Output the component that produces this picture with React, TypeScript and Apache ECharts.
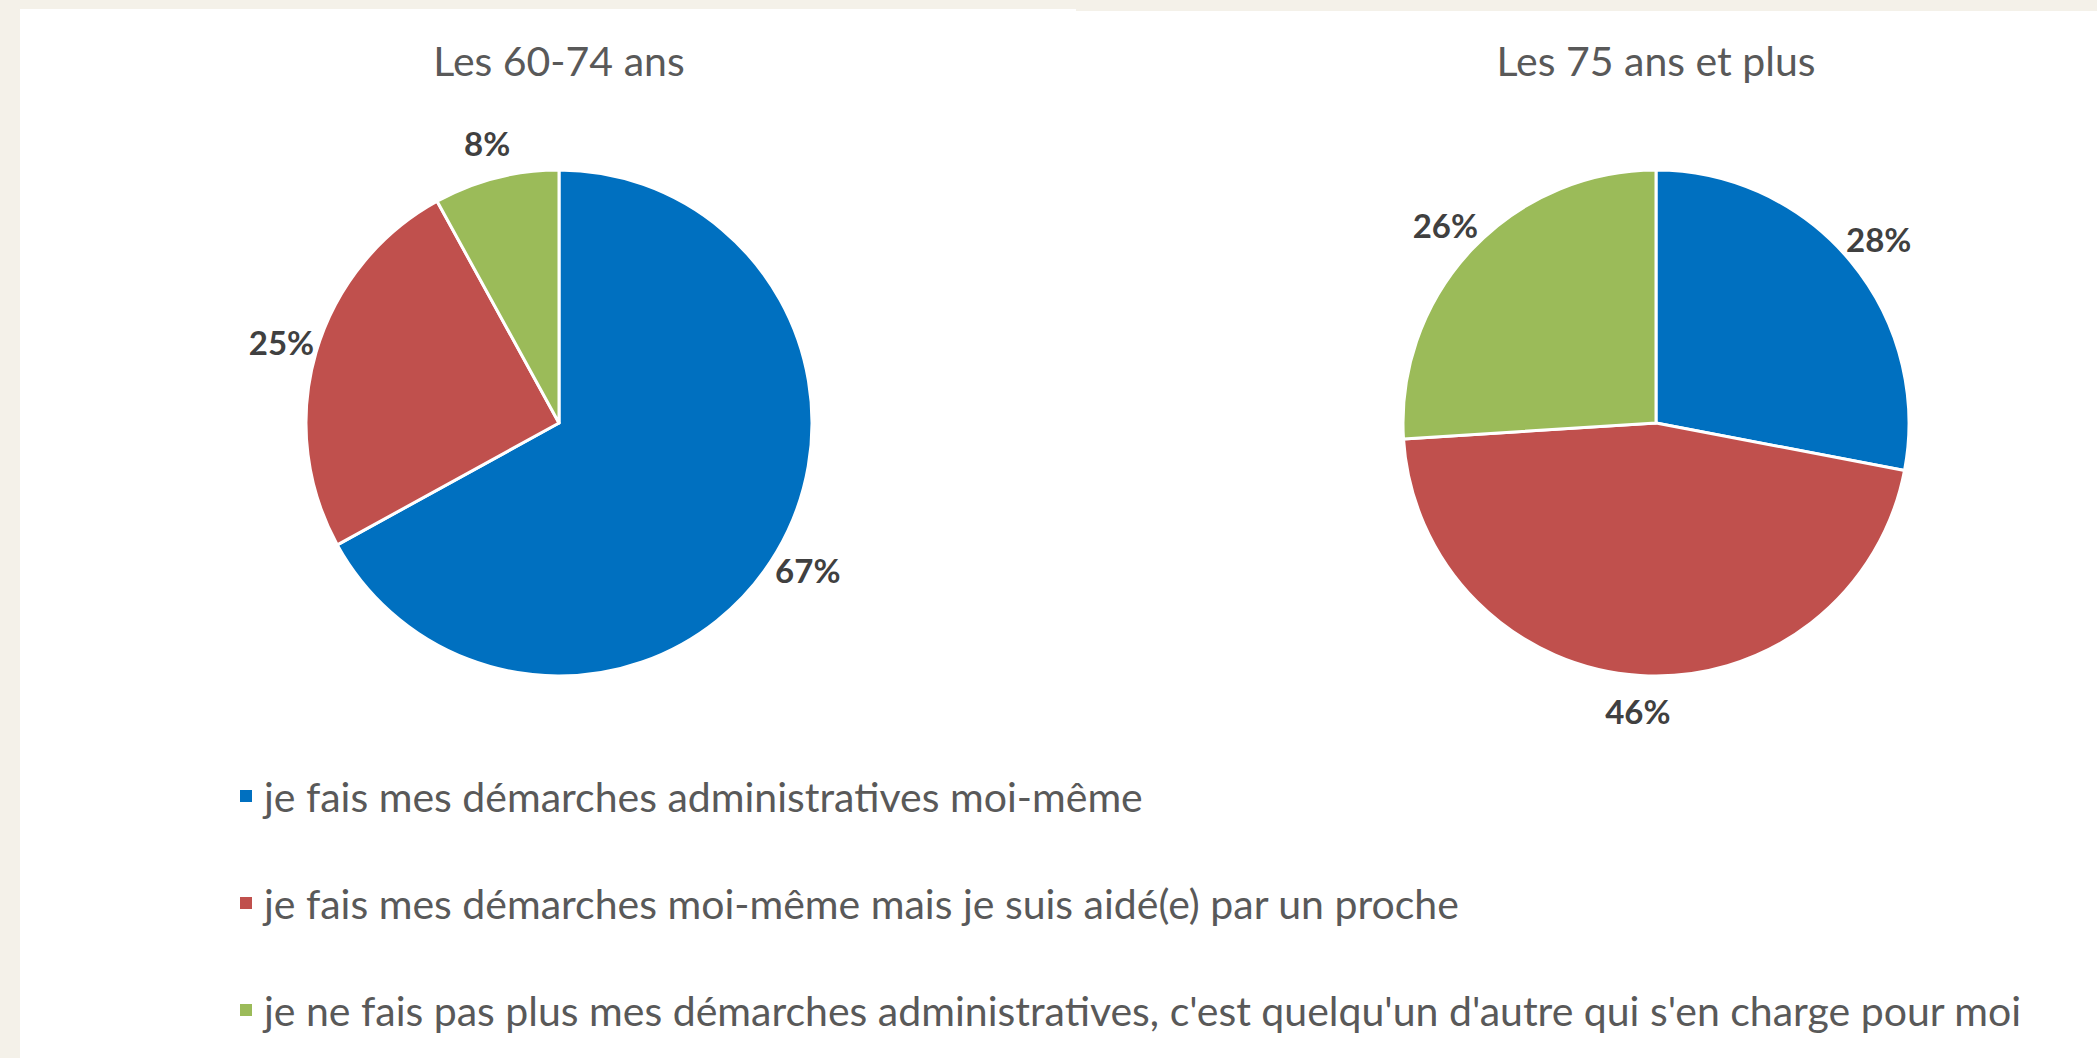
import React, { useEffect, useRef } from "react";
import * as echarts from "echarts";

const categories = [
  "je fais mes démarches administratives moi-même",
  "je fais mes démarches moi-même mais je suis aidé(e) par un proche",
  "je ne fais pas plus mes démarches administratives, c'est quelqu'un d'autre qui s'en charge pour moi",
];
const groupTitles = ["Les 60-74 ans", "Les 75 ans et plus"];
const values6074 = [67, 25, 8];
const values75plus = [28, 46, 26];
const colors = ["#0070C0", "#C0504D", "#9BBB59"];

const FONT = "Lato, 'Noto Sans', sans-serif";
const W = 2097;
const H = 1058;

export default function App() {
  const ref = useRef<HTMLDivElement>(null);
  useEffect(() => {
    if (!ref.current) return;
    const chart = echarts.init(ref.current, undefined, { renderer: "svg" });
    const makeData = (vals: number[]) =>
      vals.map((v, i) => ({ name: categories[i], value: v }));
    const centers: [number, number][] = [
      [559, 423],
      [1656, 423],
    ];
    const allValues = [values6074, values75plus];
    const mainSeries = allValues.map((vals, k) => ({
      type: "pie",
      center: centers[k],
      radius: 253,
      startAngle: 90,
      clockwise: true,
      silent: true,
      data: makeData(vals),
      label: { show: false },
      labelLine: { show: false },
      itemStyle: { borderColor: "#ffffff", borderWidth: 3 },
    }));
    const labelSeries = allValues.map((vals, k) => ({
      type: "pie",
      center: centers[k],
      radius: [263, 309],
      startAngle: 90,
      clockwise: true,
      silent: true,
      data: makeData(vals),
      itemStyle: { color: "transparent", borderWidth: 0 },
      label: {
        show: true,
        position: "inside",
        formatter: "{c}%",
        color: "#404040",
        fontFamily: FONT,
        fontWeight: "bold",
        fontSize: 33,
        textBorderWidth: 0,
      },
      labelLine: { show: false },
    }));
    chart.setOption({
      animation: false,
      backgroundColor: "#f4f1e9",
      color: colors,
      graphic: [
        { type: "rect", shape: { x: 20, y: 11, width: W - 20, height: H - 11 }, style: { fill: "#ffffff" }, silent: true },
        { type: "rect", shape: { x: 20, y: 9, width: 1056, height: 3 }, style: { fill: "#ffffff" }, silent: true },
      ],
      title: groupTitles.map((t, k) => ({
        text: t,
        left: centers[k][0],
        top: 40,
        textAlign: "center",
        padding: 0,
        textStyle: { fontFamily: FONT, fontSize: 41, fontWeight: "normal", color: "#595959" },
      })),
      legend: {
        orient: "vertical",
        left: 233,
        top: 769,
        icon: "rect",
        itemWidth: 14,
        itemHeight: 14,
        itemGap: 63,
        selectedMode: false,
        data: categories,
        textStyle: { fontFamily: FONT, fontSize: 41, color: "#595959", lineHeight: 44, padding: [0, 0, 0, 6] },
      },
      series: [...mainSeries, ...labelSeries],
    });
    return () => chart.dispose();
  }, []);
  return (
    <div
      ref={ref}
      style={{ position: "fixed", left: 0, top: 0, width: W, height: H }}
    />
  );
}
